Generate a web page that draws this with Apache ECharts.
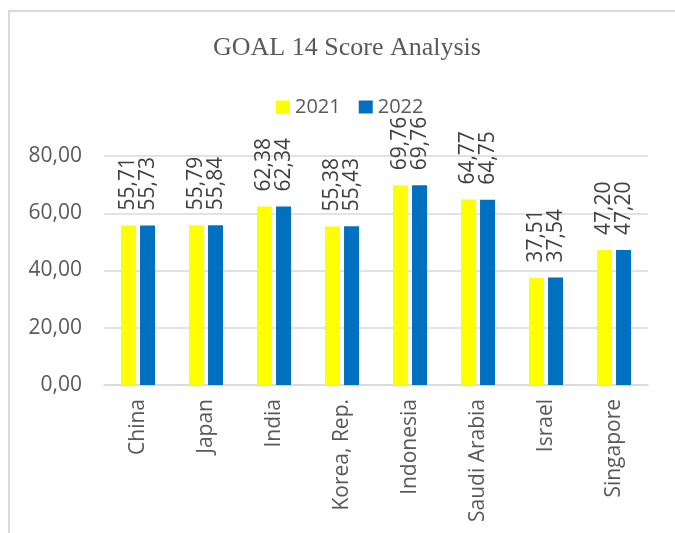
<!DOCTYPE html>
<html>
<head>
<meta charset="utf-8">
<script src="https://cdn.jsdelivr.net/npm/echarts@6/dist/echarts.min.js"></script>
<style>
  html, body { margin: 0; padding: 0; background: #fff; }
  #main { width: 675px; height: 533px; }
</style>
</head>
<body>
<div id="main"></div>
<script>
// data
var countries = ['China', 'Japan', 'India', 'Korea, Rep.', 'Indonesia', 'Saudi Arabia', 'Israel', 'Singapore'];
var score2021 = [55.71, 55.79, 62.38, 55.38, 69.76, 64.77, 37.51, 47.20];
var score2022 = [55.73, 55.84, 62.34, 55.43, 69.76, 64.75, 37.54, 47.20];
var yTicks = [0, 20, 40, 60, 80];

var font = '"Open Sans", "Noto Sans", sans-serif';

function comma(v) {
    return Number(v).toFixed(2).replace('.', ',');
}

function barLabel() {
    return {
        show: true,
        position: 'top',
        rotate: 90,
        align: 'left',
        verticalAlign: 'middle',
        distance: 15,
        fontFamily: font,
        fontSize: 21,
        color: '#404040',
        formatter: function (p) { return comma(p.value); }
    };
}

var myChart = echarts.init(document.getElementById('main'));
myChart.setOption({
    animation: false,
    backgroundColor: '#fff',
    color: ['#FFFF00', '#0070C0'],
    graphic: [{
        type: 'rect',
        shape: { x: 9, y: 11, width: 700, height: 600 },
        style: { fill: 'none', stroke: '#d9d9d9', lineWidth: 2 },
        silent: true
    }],
    title: {
        text: 'GOAL 14 Score Analysis',
        left: 342,
        textAlign: 'center',
        top: 30,
        textStyle: {
            fontFamily: '"Liberation Serif", "Times New Roman", serif',
            fontSize: 26,
            fontWeight: 'normal',
            color: '#595959'
        }
    },
    legend: {
        data: ['2021', '2022'],
        left: 271,
        top: 92,
        icon: 'rect',
        itemWidth: 14,
        itemHeight: 13,
        itemGap: 18,
        textStyle: { fontFamily: font, fontSize: 20, color: '#595959' }
    },
    grid: { left: 104, right: 27, top: 156, bottom: 148, containLabel: false, outerBoundsMode: 'none' },
    xAxis: {
        type: 'category',
        data: countries,
        axisTick: { show: false },
        axisLine: { lineStyle: { color: '#d9d9d9', width: 1.5 } },
        axisLabel: {
            rotate: 90,
            margin: 14,
            interval: 0,
            fontFamily: font,
            fontSize: 21,
            color: '#595959'
        }
    },
    yAxis: {
        type: 'value',
        min: yTicks[0],
        max: yTicks[yTicks.length - 1],
        interval: 20,
        axisLine: { show: false },
        axisTick: { show: false },
        splitLine: { lineStyle: { color: '#d9d9d9', width: 1.5 } },
        axisLabel: {
            margin: 22,
            fontFamily: font,
            fontSize: 21,
            color: '#595959',
            formatter: comma
        }
    },
    series: [
        {
            name: '2021',
            type: 'bar',
            barWidth: 15,
            barGap: '27%',
            data: score2021,
            label: barLabel()
        },
        {
            name: '2022',
            type: 'bar',
            barWidth: 15,
            barGap: '27%',
            data: score2022,
            label: barLabel()
        }
    ]
});
</script>
</body>
</html>
